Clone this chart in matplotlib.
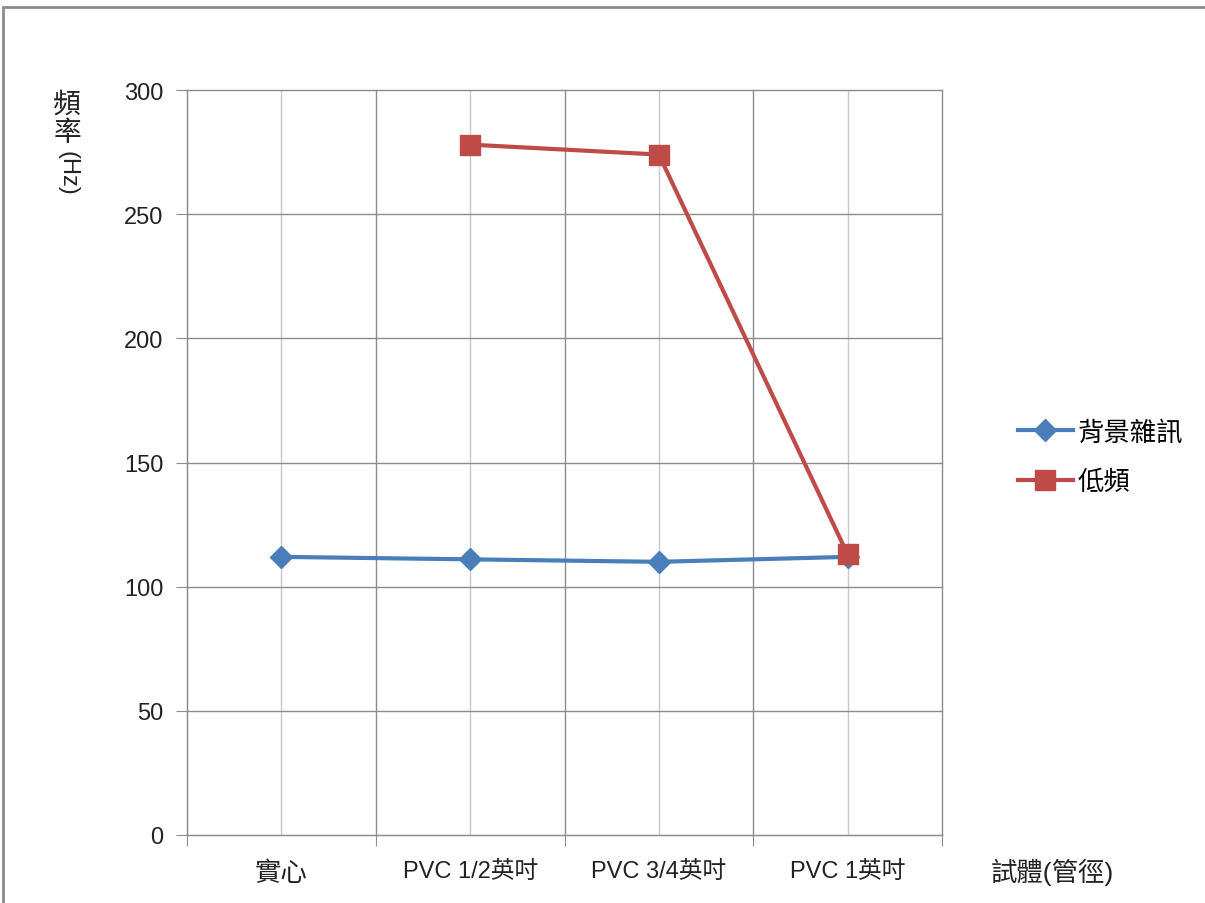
import matplotlib.pyplot as plt
import numpy as np
from matplotlib.patches import Rectangle

plt.rcParams['font.family'] = ['Liberation Sans', 'Noto Sans CJK TC', 'DejaVu Sans']

categories = ['實心', 'PVC 1/2英吋', 'PVC 3/4英吋', 'PVC 1英吋']
noise = [112, 111, 110, 112]
low_freq = [np.nan, 278, 274, 113]

fig = plt.figure(figsize=(12.05, 9.04), dpi=100)
ax = fig.add_axes([187/1205, 1-836/904, (942-187)/1205, (836-91)/904])

x = np.arange(len(categories))
ax.plot(x, noise, color='#4A7EBB', lw=3, marker='D', ms=11, label='背景雜訊', zorder=3)
ax.plot(x, low_freq, color='#BE4B48', lw=3, marker='s', ms=14, label='低頻', zorder=3)

ax.set_xlim(-0.5, len(categories) - 0.5)
ax.set_ylim(0, 300)
ax.set_yticks(np.arange(0, 301, 50))
ax.set_xticks(np.arange(-0.5, len(categories), 1.0))
ax.set_xticklabels([])
ax.set_xticks(x, minor=True)
ax.set_xticklabels(categories, minor=True, fontsize=17)
ax.get_xticklabels(minor=True)[0].set_fontsize(19)

ax.grid(True, which='major', color='#8C8C8C', lw=1.0)
ax.grid(True, which='minor', axis='x', color='#C8C8C8', lw=1.0)
ax.set_axisbelow(True)
for gl in ax.get_xgridlines() + ax.get_ygridlines():
    gl.set_clip_on(False)

for s in ['top', 'right']:
    ax.spines[s].set_visible(False)
for s in ['left', 'bottom']:
    ax.spines[s].set_color('#8C8C8C')
ax.tick_params(axis='both', which='major', color='#8C8C8C', length=8, labelsize=17, labelcolor='#222222')
ax.tick_params(axis='x', which='minor', length=0, pad=18, labelcolor='#222222')
ax.tick_params(axis='y', pad=9)

# axis titles
fig.text(1052/1205, 1-872/904, '試體(管徑)', fontsize=19, ha='center', va='center', color='#222222')
fig.text(67/1205, 1-106/904, '頻', fontsize=20, ha='center', va='center', color='#222222')
fig.text(67/1205, 1-134/904, '率', fontsize=20, ha='center', va='center', color='#222222')
fig.text(67/1205, 1-173/904, '(Hz)', fontsize=17, ha='center', va='center', rotation=-90, color='#222222')

fig.legend(loc='center left', bbox_to_anchor=(994/1205, 1-458/904), frameon=False,
           fontsize=19, handlelength=2.1, handletextpad=0.15, labelspacing=0.95)

# chart frame
fig.add_artist(Rectangle((3/1205, -0.05), 1.1, 1-8/904+0.05, transform=fig.transFigure,
                         fill=False, ec='#8C8C8C', lw=2))

fig.savefig('out.png', dpi=100)
